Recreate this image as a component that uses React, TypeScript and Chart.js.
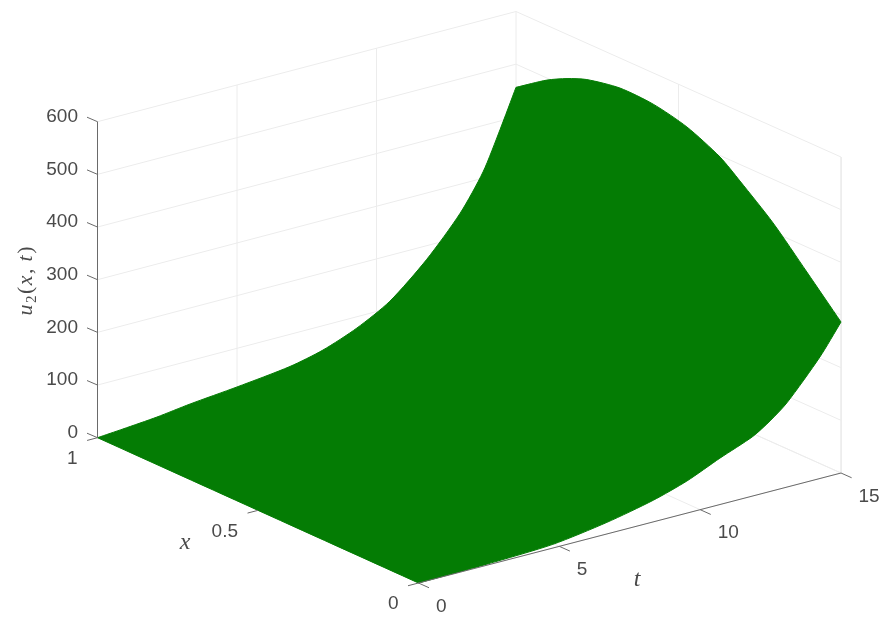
import React, { useEffect, useRef } from "react";
import { Chart, registerables } from "chart.js";

Chart.register(...registerables);

// Axis ticks
const zTicks = [0, 100, 200, 300, 400, 500, 600];
const tTicks = [0, 5, 10, 15];
const xTicks = [0, 0.5, 1];
const zTickLabels = ["0", "100", "200", "300", "400", "500", "600"];
const tTickLabels = ["0", "5", "10", "15"];
const xTickLabels = ["0", "0.5", "1"];

// Edge x = 1 of the surface
const tAtX1 = [0, 0.91, 2.13, 3.32, 5, 6.9, 8.08, 9.3, 10.48, 11.8, 13, 13.82, 14.43, 15];
const uAtX1 = [0, 3.8, 9.5, 17.7, 26.6, 39, 53.7, 78.6, 113, 174, 245, 312, 384, 456];
// Edge t = 15 of the surface
const xAtT15 = [1, 0.905, 0.843, 0.782, 0.68, 0.578, 0.474, 0.372, 0.311, 0.209, 0.105, 0];
const uAtT15 = [456, 496, 516, 531, 543, 540.7, 526, 497, 468.6, 417, 352.6, 286.7];
// Edge x = 0 of the surface
const tAtX0 = [15, 14.25, 13.08, 12.48, 11.87, 10.7, 9.53, 8.33, 6.69, 4.77, 2.43, 0];
const uAtX0 = [286.7, 230.7, 160, 134, 113, 88, 61, 41, 22, 7, 2, 0];

const GREEN = "#047c04";
const GRID = "#ececec";
const AXIS = "#6a6a6a";
const TEXT = "#4a4a4a";
const SANS = '"Liberation Sans", Arial, sans-serif';
const SERIF = '"Liberation Serif", serif';

// Oblique view of the 3-D box
const A = [97.5, 437.7]; // x=1, t=0
const B = [418.5, 583]; // x=0, t=0
const C = [841, 473]; // x=0, t=15
const D = [516, 327.5]; // x=1, t=15
const Z_SCALE = 316 / 600;

function project(x: number, t: number, z: number) {
  const s = t / 15;
  const px = x * (1 - s) * A[0] + (1 - x) * (1 - s) * B[0] + (1 - x) * s * C[0] + x * s * D[0];
  const py = x * (1 - s) * A[1] + (1 - x) * (1 - s) * B[1] + (1 - x) * s * C[1] + x * s * D[1];
  return { x: px, y: py - z * Z_SCALE };
}

function seg(data: { x: number; y: number }[], color: string, width: number, order: number) {
  return {
    data,
    showLine: true,
    borderColor: color,
    borderWidth: width,
    pointRadius: 0,
    fill: false,
    tension: 0,
    order,
  };
}

function buildDatasets() {
  const ds: any[] = [];
  // back walls and floor grid
  zTicks.forEach((z) => {
    ds.push(seg([project(1, 0, z), project(1, 15, z), project(0, 15, z)], GRID, 1, 30));
  });
  tTicks.slice(1).forEach((t) => {
    ds.push(seg([project(0, t, 0), project(1, t, 0), project(1, t, 600)], GRID, 1, 30));
  });
  xTicks.slice(0, 2).forEach((x) => {
    ds.push(seg([project(x, 15, 600), project(x, 15, 0), project(x, 0, 0)], GRID, 1, 30));
  });
  // surface outline
  const outline = [
    ...tAtX1.map((t, i) => project(1, t, uAtX1[i])),
    ...xAtT15.map((x, i) => project(x, 15, uAtT15[i])),
    ...tAtX0.map((t, i) => project(0, t, uAtX0[i])),
    project(0, 0, 0),
    project(1, 0, 0),
    project(1, 0, 0),
  ];
  ds.push({
    data: outline,
    showLine: true,
    borderColor: GREEN,
    borderWidth: 1,
    backgroundColor: GREEN,
    fill: "shape",
    pointRadius: 0,
    tension: 0.25,
    order: 10,
  });
  // axes
  ds.push(seg([project(1, 0, 0), project(1, 0, 600)], AXIS, 1, 5));
  ds.push(seg([project(0, 0, 0), project(0, 15, 0)], AXIS, 1, 5));
  // tick marks
  const tickX = 10.5 / 321;
  const tickT = (10.5 / 422) * 15;
  zTicks.forEach((z) => {
    const p = project(1, 0, z);
    ds.push(seg([p, { x: p.x - 10.5, y: p.y - 4.5 }], AXIS, 1, 5));
  });
  xTicks.forEach((x) => {
    ds.push(seg([project(x, 0, 0), project(x, -tickT, 0)], AXIS, 1, 5));
  });
  tTicks.forEach((t) => {
    ds.push(seg([project(0, t, 0), project(-tickX, t, 0)], AXIS, 1, 5));
  });
  return ds;
}

const labelsPlugin = {
  id: "labels3d",
  afterDatasetsDraw(chart: any) {
    const { ctx, scales } = chart;
    const sx = (v: number) => scales.x.getPixelForValue(v);
    const sy = (v: number) => scales.y.getPixelForValue(v);
    ctx.save();
    ctx.fillStyle = TEXT;
    ctx.textBaseline = "middle";
    ctx.font = `19px ${SANS}`;

    ctx.textAlign = "right";
    zTicks.forEach((z, i) => {
      const p = project(1, 0, z);
      ctx.fillText(zTickLabels[i], sx(p.x) - 19.5, sy(p.y) - 5);
    });
    xTicks.forEach((x, i) => {
      const p = project(x, 0, 0);
      ctx.fillText(xTickLabels[i], sx(p.x) - 20, sy(p.y) + 21);
    });
    ctx.textAlign = "left";
    tTicks.forEach((t, i) => {
      const p = project(0, t, 0);
      ctx.fillText(tTickLabels[i], sx(p.x) + 17.5, sy(p.y) + 23.5);
    });

    ctx.textAlign = "center";
    ctx.font = `italic 24px ${SERIF}`;
    ctx.fillText("x", sx(185), sy(543));
    ctx.fillText("t", sx(637), sy(580));

    // rotated z-axis title
    const runs: [string, string, number][] = [
      ["u", `italic 22px ${SERIF}`, 0],
      ["2", `15px ${SERIF}`, 4],
      ["(", `22px ${SERIF}`, 0],
      ["x", `italic 22px ${SERIF}`, 0],
      [", ", `22px ${SERIF}`, 0],
      ["t", `italic 22px ${SERIF}`, 0],
      [")", `22px ${SERIF}`, 0],
    ];
    const gap = 1.5;
    let total = -gap;
    runs.forEach(([s, f]) => {
      ctx.font = f;
      total += ctx.measureText(s).width + gap;
    });
    ctx.translate(sx(26), sy(281));
    ctx.rotate(-Math.PI / 2);
    ctx.textAlign = "left";
    ctx.textBaseline = "alphabetic";
    let cx = -total / 2;
    runs.forEach(([s, f, dy]) => {
      ctx.font = f;
      ctx.fillText(s, cx, 6 + dy);
      cx += ctx.measureText(s).width + gap;
    });
    ctx.restore();
  },
};

export default function App() {
  const ref = useRef<HTMLCanvasElement>(null);
  useEffect(() => {
    if (!ref.current) return;
    const chart = new Chart(ref.current, {
      type: "scatter",
      data: { datasets: buildDatasets() },
      options: {
        animation: false,
        responsive: false,
        layout: { padding: 0 },
        plugins: { legend: { display: false }, tooltip: { enabled: false }, title: { display: false } },
        scales: {
          x: { type: "linear", display: false, min: 0, max: 887 },
          y: { type: "linear", display: false, min: 0, max: 620, reverse: true },
        },
      },
      plugins: [labelsPlugin],
    } as any);
    return () => chart.destroy();
  }, []);
  return (
    <div style={{ position: "absolute", left: 0, top: 0, width: 887, height: 620, background: "#fff" }}>
      <canvas ref={ref} width={887} height={620} style={{ display: "block" }} />
    </div>
  );
}
